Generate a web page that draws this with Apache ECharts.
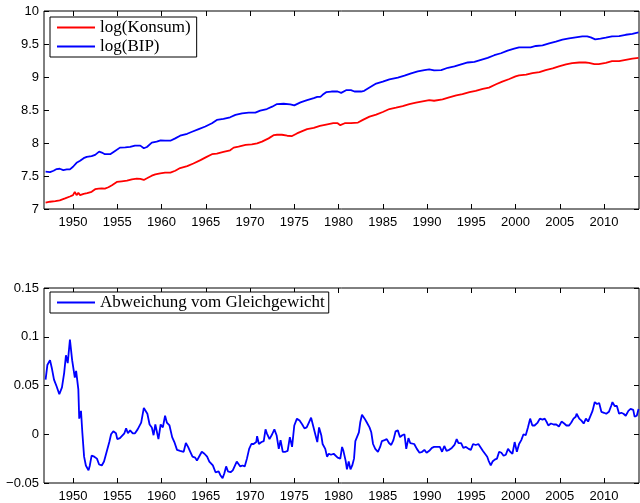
<!DOCTYPE html>
<html>
<head>
<meta charset="utf-8">
<script src="https://cdn.jsdelivr.net/npm/echarts@6/dist/echarts.min.js"></script>
<style>html,body{margin:0;padding:0;background:#fff;}#c{width:640px;height:503px;}</style>
</head>
<body>
<div id="c"></div>
<script>
const xTicks = [1950,1955,1960,1965,1970,1975,1980,1985,1990,1995,2000,2005,2010];
const yTicksTop = [7,7.5,8,8.5,9,9.5,10];
const yTicksBottom = [-0.05,0,0.05,0.1,0.15];

const konsumYears = [1946.9,1947.4,1948.0,1948.5,1949.1,1949.65,1950.0,1950.2,1950.4,1950.6,1950.8,1951.2,1951.6,1952.1,1952.5,1952.9,1953.25,1953.6,1954.0,1954.4,1954.95,1955.5,1956.1,1956.65,1957.2,1957.6,1958.0,1958.35,1958.9,1959.3,1959.85,1960.4,1961.0,1961.55,1962.1,1962.9,1963.6,1964.4,1965.1,1965.7,1966.25,1967.0,1967.75,1968.15,1968.7,1969.5,1970.2,1970.8,1971.35,1972.1,1972.7,1973.05,1973.6,1974.2,1974.75,1975.3,1975.9,1976.45,1977.2,1977.9,1978.6,1979.4,1979.9,1980.2,1980.7,1981.4,1982.2,1982.75,1983.5,1984.25,1985.0,1985.75,1986.5,1987.25,1988.0,1988.75,1989.5,1990.25,1990.8,1991.75,1992.5,1993.3,1994.0,1994.8,1995.5,1996.3,1997.0,1997.8,1998.5,1999.3,2000.0,2000.4,2001.2,2001.9,2002.7,2003.4,2004.2,2004.9,2005.7,2006.4,2007.2,2007.9,2008.3,2008.9,2009.4,2010.2,2010.9,2011.7,2012.45,2013.2,2013.9];
const konsumValues = [7.096,7.11,7.12,7.13,7.16,7.19,7.21,7.26,7.21,7.245,7.21,7.23,7.24,7.26,7.30,7.31,7.313,7.31,7.33,7.36,7.41,7.42,7.43,7.45,7.46,7.455,7.44,7.465,7.505,7.525,7.54,7.55,7.55,7.58,7.62,7.65,7.69,7.74,7.79,7.83,7.84,7.865,7.89,7.93,7.945,7.97,7.98,7.995,8.02,8.07,8.12,8.125,8.125,8.11,8.105,8.145,8.18,8.21,8.23,8.26,8.28,8.30,8.30,8.27,8.30,8.30,8.31,8.35,8.40,8.43,8.47,8.515,8.535,8.56,8.59,8.61,8.63,8.65,8.64,8.66,8.69,8.72,8.74,8.77,8.79,8.82,8.84,8.89,8.93,8.97,9.01,9.025,9.035,9.06,9.075,9.105,9.13,9.16,9.19,9.21,9.22,9.22,9.215,9.195,9.195,9.215,9.24,9.24,9.26,9.28,9.29];

const bipYears = [1946.9,1947.4,1947.8,1948.15,1948.5,1948.9,1949.3,1949.65,1950.0,1950.4,1950.8,1951.2,1951.55,1952.1,1952.5,1952.95,1953.25,1953.6,1954.2,1954.75,1955.3,1955.9,1956.45,1957.0,1957.6,1958.0,1958.35,1958.9,1959.45,1959.9,1960.4,1961.0,1961.55,1962.1,1962.9,1963.45,1964.2,1964.95,1965.7,1966.25,1967.0,1967.75,1968.35,1969.1,1969.85,1970.6,1971.15,1971.9,1972.5,1973.05,1973.8,1974.55,1975.0,1975.7,1976.45,1977.2,1977.6,1977.95,1978.2,1978.6,1979.2,1979.9,1980.3,1980.85,1981.4,1981.8,1982.55,1982.9,1983.5,1984.25,1985.0,1985.75,1986.7,1987.45,1988.2,1988.95,1989.7,1990.25,1990.8,1991.6,1992.35,1993.1,1993.85,1994.6,1995.35,1996.1,1996.85,1997.6,1998.35,1999.1,1999.85,2000.4,2001.0,2001.7,2002.3,2003.05,2003.8,2004.55,2005.3,2006.05,2006.8,2007.55,2008.1,2008.5,2009.0,2009.6,2010.2,2010.9,2011.7,2012.45,2013.2,2013.9];
const bipValues = [7.565,7.56,7.58,7.605,7.61,7.59,7.60,7.60,7.64,7.70,7.73,7.77,7.79,7.80,7.82,7.87,7.855,7.83,7.83,7.88,7.93,7.935,7.94,7.96,7.96,7.92,7.94,8.005,8.02,8.04,8.035,8.035,8.07,8.11,8.14,8.17,8.21,8.25,8.30,8.35,8.365,8.39,8.425,8.45,8.46,8.46,8.49,8.515,8.55,8.59,8.595,8.585,8.57,8.615,8.65,8.68,8.70,8.70,8.73,8.77,8.78,8.78,8.76,8.80,8.80,8.78,8.78,8.79,8.84,8.90,8.93,8.965,8.99,9.02,9.055,9.085,9.105,9.115,9.10,9.105,9.14,9.16,9.19,9.22,9.23,9.26,9.29,9.33,9.36,9.40,9.43,9.45,9.45,9.45,9.47,9.48,9.51,9.535,9.565,9.585,9.60,9.615,9.615,9.60,9.57,9.58,9.595,9.615,9.62,9.64,9.655,9.675];

const devYears = [1946.9,1947.1,1947.4,1947.6,1947.85,1948.15,1948.45,1948.75,1949.0,1949.2,1949.4,1949.65,1949.9,1950.2,1950.35,1950.5,1950.6,1950.7,1950.9,1951.05,1951.25,1951.45,1951.6,1951.75,1951.9,1952.1,1952.4,1952.7,1952.95,1953.25,1953.5,1953.8,1954.1,1954.3,1954.55,1954.85,1955.0,1955.3,1955.5,1955.8,1956.0,1956.2,1956.45,1956.75,1957.0,1957.3,1957.5,1957.7,1958.0,1958.2,1958.4,1958.65,1958.9,1959.1,1959.3,1959.5,1959.65,1959.9,1960.15,1960.4,1960.6,1960.9,1961.2,1961.45,1961.75,1962.1,1962.5,1962.75,1963.0,1963.25,1963.5,1963.8,1964.0,1964.3,1964.55,1964.85,1965.15,1965.4,1965.6,1965.8,1966.1,1966.25,1966.45,1966.65,1966.9,1967.1,1967.3,1967.5,1967.8,1968.05,1968.25,1968.5,1968.7,1968.9,1969.15,1969.4,1969.65,1969.9,1970.15,1970.4,1970.7,1970.8,1971.0,1971.3,1971.55,1971.75,1971.9,1972.2,1972.5,1972.75,1973.0,1973.25,1973.45,1973.7,1974.0,1974.25,1974.5,1974.75,1975.0,1975.3,1975.6,1975.9,1976.15,1976.4,1976.65,1976.9,1977.1,1977.4,1977.6,1977.8,1977.95,1978.05,1978.2,1978.5,1978.7,1978.9,1979.15,1979.45,1979.65,1979.9,1980.2,1980.4,1980.55,1980.8,1980.95,1981.15,1981.35,1981.55,1981.75,1981.9,1982.05,1982.3,1982.45,1982.65,1982.95,1983.2,1983.5,1983.7,1983.9,1984.15,1984.45,1984.7,1984.9,1985.2,1985.45,1985.7,1985.95,1986.2,1986.45,1986.7,1986.95,1987.2,1987.45,1987.65,1987.9,1988.1,1988.3,1988.55,1988.85,1989.15,1989.45,1989.7,1989.95,1990.25,1990.55,1990.8,1991.2,1991.45,1991.7,1991.95,1992.2,1992.5,1992.8,1993.1,1993.35,1993.55,1993.85,1994.1,1994.4,1994.7,1994.95,1995.2,1995.5,1995.8,1996.0,1996.3,1996.55,1996.8,1996.95,1997.2,1997.4,1997.65,1997.9,1998.15,1998.4,1998.65,1998.9,1999.15,1999.4,1999.65,1999.9,2000.15,2000.4,2000.65,2000.9,2001.15,2001.4,2001.65,2001.9,2002.15,2002.5,2002.75,2003.05,2003.3,2003.55,2003.7,2004.0,2004.3,2004.6,2004.9,2005.2,2005.5,2005.75,2006.05,2006.3,2006.55,2006.8,2006.9,2007.2,2007.45,2007.7,2007.95,2008.2,2008.4,2008.7,2008.95,2009.2,2009.45,2009.7,2010.0,2010.25,2010.55,2010.8,2010.95,2011.2,2011.45,2011.7,2011.95,2012.2,2012.45,2012.75,2013.0,2013.3,2013.45,2013.7,2013.9];
const devValues = [0.056,0.071,0.076,0.068,0.056,0.049,0.041,0.048,0.063,0.081,0.073,0.097,0.076,0.058,0.065,0.066,0.046,0.016,0.024,0.002,-0.023,-0.032,-0.030,-0.037,-0.032,-0.022,-0.023,-0.025,-0.031,-0.032,-0.028,-0.018,-0.008,0.000,0.003,0.001,-0.005,-0.004,-0.005,0.001,0.006,0.001,0.004,0.001,0.001,0.005,0.003,0.012,0.027,0.029,0.021,0.010,0.007,-0.001,0.010,0.009,-0.005,0.010,0.007,0.019,0.012,0.009,-0.003,-0.008,-0.016,-0.017,-0.018,-0.009,-0.013,-0.018,-0.023,-0.024,-0.027,-0.022,-0.018,-0.020,-0.023,-0.028,-0.027,-0.032,-0.039,-0.040,-0.038,-0.042,-0.045,-0.040,-0.033,-0.038,-0.039,-0.037,-0.039,-0.028,-0.029,-0.033,-0.032,-0.033,-0.025,-0.015,-0.010,-0.010,-0.008,-0.002,-0.010,-0.008,-0.007,0.005,0.001,-0.005,0.000,0.005,-0.001,-0.015,-0.006,-0.018,-0.018,-0.017,-0.003,-0.013,0.009,0.016,0.014,0.010,0.006,0.007,0.012,0.017,0.016,-0.001,-0.008,0.007,0.009,-0.001,-0.010,-0.015,-0.023,-0.020,-0.021,-0.020,-0.020,-0.024,-0.025,-0.013,-0.017,-0.027,-0.036,-0.028,-0.036,-0.032,-0.025,-0.007,-0.008,0.002,0.012,0.020,0.016,0.012,0.007,0.002,-0.010,-0.015,-0.018,-0.013,-0.007,-0.006,-0.005,-0.009,-0.011,-0.006,0.003,0.004,-0.003,-0.001,0.000,-0.015,-0.004,-0.009,-0.008,-0.010,-0.015,-0.019,-0.018,-0.016,-0.019,-0.017,-0.014,-0.013,-0.013,-0.013,-0.018,-0.012,-0.017,-0.016,-0.014,-0.011,-0.005,-0.009,-0.009,-0.014,-0.013,-0.015,-0.016,-0.010,-0.011,-0.010,-0.009,-0.017,-0.020,-0.023,-0.027,-0.032,-0.028,-0.026,-0.025,-0.018,-0.019,-0.022,-0.021,-0.015,-0.018,-0.020,-0.008,-0.018,-0.010,-0.006,0.000,-0.001,0.007,0.016,0.009,0.009,0.012,0.016,0.015,0.016,0.012,0.009,0.011,0.010,0.010,0.008,0.013,0.011,0.009,0.009,0.012,0.016,0.018,0.021,0.016,0.014,0.011,0.016,0.013,0.011,0.024,0.033,0.031,0.032,0.023,0.022,0.021,0.023,0.029,0.033,0.029,0.029,0.021,0.022,0.021,0.019,0.024,0.026,0.025,0.018,0.019,0.026];

const zip = (xs, ys) => xs.map((x, i) => [x, ys[i]]);
const X_MIN = 1946.72, X_MAX = 2013.95;
const labelFont = { fontFamily: 'Liberation Sans', fontSize: 13, color: '#000' };
const serif = 'Liberation Serif';

function xAx(gridIndex, pos, showLabels) {
  return {
    type: 'value', gridIndex: gridIndex, position: pos, min: X_MIN, max: X_MAX,
    axisLine: { show: false, onZero: false },
    axisTick: { show: true, inside: true, length: 5, customValues: xTicks, lineStyle: { color: '#000' } },
    axisLabel: Object.assign({ show: showLabels, margin: 7, customValues: xTicks, formatter: v => String(v) }, labelFont),
    splitLine: { show: false }
  };
}
function yAx(gridIndex, pos, min, max, interval, showLabels, fmt) {
  return {
    type: 'value', gridIndex: gridIndex, position: pos, min: min, max: max, interval: interval,
    axisLine: { show: false, onZero: false },
    axisTick: { show: true, inside: true, length: 5, lineStyle: { color: '#000' } },
    axisLabel: Object.assign({ show: showLabels, margin: 5, formatter: fmt }, labelFont),
    splitLine: { show: false }
  };
}
const fmtDev = v => {
  const r = Math.round(v * 100) / 100;
  if (r === 0) return '0';
  const s = String(Math.abs(r));
  return r < 0 ? '\u2212' + s : s;
};
const fmtTop = v => String(Math.round(v * 10) / 10);

const chart = echarts.init(document.getElementById('c'), null, { renderer: 'canvas' });
chart.setOption({
  animation: false,
  backgroundColor: '#fff',
  grid: [
    { left: 44, top: 11, width: 595, height: 198, show: true, borderColor: '#000', borderWidth: 1, backgroundColor: 'transparent' },
    { left: 44, top: 288, width: 595, height: 197, show: true, borderColor: '#000', borderWidth: 1, backgroundColor: 'transparent' }
  ],
  xAxis: [
    xAx(0, 'bottom', true), xAx(0, 'top', false),
    xAx(1, 'bottom', true), xAx(1, 'top', false)
  ],
  yAxis: [
    yAx(0, 'left', 7, 10, 0.5, true, fmtTop), yAx(0, 'right', 7, 10, 0.5, false, fmtTop),
    yAx(1, 'left', -0.05, 0.15, 0.05, true, fmtDev), yAx(1, 'right', -0.05, 0.15, 0.05, false, fmtDev)
  ],
  legend: [
    {
      data: ['log(Konsum)', 'log(BIP)'], orient: 'vertical', left: 50, top: 17,
      icon: 'rect', itemWidth: 38, itemHeight: 2, itemGap: 2,
      padding: [2, 6, 2, 7], borderColor: '#000', borderWidth: 1, borderRadius: 0, backgroundColor: '#fff',
      textStyle: { fontFamily: serif, fontSize: 17, color: '#000' }
    },
    {
      data: ['Abweichung vom Gleichgewicht'], orient: 'vertical', left: 50, top: 292,
      icon: 'rect', itemWidth: 38, itemHeight: 2,
      padding: [2, 4, 2, 7], borderColor: '#000', borderWidth: 1, borderRadius: 0, backgroundColor: '#fff',
      textStyle: { fontFamily: serif, fontSize: 17, color: '#000' }
    }
  ],
  series: [
    { name: 'log(Konsum)', type: 'line', xAxisIndex: 0, yAxisIndex: 0, data: zip(konsumYears, konsumValues),
      showSymbol: false, symbol: 'none', color: '#ff0000', lineStyle: { width: 1.8, color: '#ff0000' } },
    { name: 'log(BIP)', type: 'line', xAxisIndex: 0, yAxisIndex: 0, data: zip(bipYears, bipValues),
      showSymbol: false, symbol: 'none', color: '#0000ff', lineStyle: { width: 1.8, color: '#0000ff' } },
    { name: 'Abweichung vom Gleichgewicht', type: 'line', xAxisIndex: 2, yAxisIndex: 2, data: zip(devYears, devValues),
      showSymbol: false, symbol: 'none', color: '#0000ff', lineStyle: { width: 1.8, color: '#0000ff' } }
  ]
});
</script>
</body>
</html>
